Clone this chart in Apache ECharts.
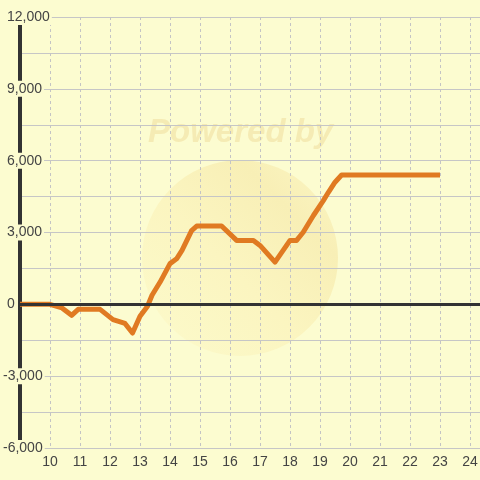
<!DOCTYPE html>
<html><head><meta charset="utf-8">
<script src="https://cdn.jsdelivr.net/npm/echarts@6/dist/echarts.min.js"></script>
<style>html,body{margin:0;padding:0;background:#fcfcd0}#c{width:480px;height:480px}</style>
</head><body><div id="c"></div>
<script>
// hour of day (x) and value (y)
const hours = [9, 10, 10.4, 10.72, 10.94, 11.67, 12.1, 12.5, 12.75, 13.0, 13.25, 13.4, 13.67, 14.0, 14.22, 14.4, 14.72, 14.89, 15.72, 16.22, 16.78, 17.0, 17.5, 18.0, 18.22, 18.44, 18.78, 19.11, 19.28, 19.5, 19.72, 23.0];
const values = [0, 0, -150, -460, -210, -210, -640, -800, -1200, -500, -80, 380, 930, 1700, 1900, 2250, 3080, 3270, 3270, 2670, 2670, 2460, 1760, 2670, 2670, 3010, 3710, 4330, 4680, 5100, 5400, 5400];
const xMin = 9, xMax = 24.333, xStep = 1;
const yMin = -6000, yMax = 12000, yStep = 3000;
const zeroLine = [0];
const watermarkText = 'Powered by';

const points = hours.map((h, i) => [h, values[i]]);
const font = '"Liberation Sans", Arial, sans-serif';
const bg = '#fcfcd0';

const chart = echarts.init(document.getElementById('c'));
chart.setOption({
  backgroundColor: bg,
  animation: false,
  grid: { left: 20, right: 0, top: 17, bottom: 32, outerBoundsMode: 'none', containLabel: false },
  graphic: [
    { type: 'circle', z: -10, shape: { cx: 240, cy: 258, r: 98 },
      style: { fill: new echarts.graphic.LinearGradient(0, 1, 1, 0, [
        { offset: 0, color: '#fcfacb' }, { offset: 0.45, color: '#fbf5c0' }, { offset: 0.75, color: '#f8efb6' }, { offset: 1, color: '#fbf6c4' }]) } },
    { type: 'text', z: -10, left: 148, top: 116,
      style: { text: watermarkText, fill: '#f5ebb4', font: 'italic bold 33px "Liberation Sans", Arial, sans-serif' } }
  ],
  xAxis: {
    type: 'value', min: xMin, max: xMax, interval: xStep,
    axisLine: { show: false }, axisTick: { show: false },
    axisLabel: { margin: 7, color: '#444', fontSize: 14, fontFamily: font,
      formatter: v => (v > xMin && Math.abs(v - Math.round(v)) < 1e-6) ? String(v) : '' },
    splitLine: { show: true, lineStyle: { color: '#c4c4c4', type: [3, 3], width: 1 } }
  },
  yAxis: {
    type: 'value', min: yMin, max: yMax, interval: yStep,
    axisLine: { show: true, lineStyle: { color: '#333', width: 4 } },
    axisTick: { show: false },
    minorTick: { show: false, splitNumber: 2 },
    minorSplitLine: { show: true, lineStyle: { color: '#c6c6c6', width: 1 } },
    splitLine: { show: true, lineStyle: { color: '#c6c6c6', width: 1 } },
    axisLabel: {
      align: 'left', margin: 17, fontSize: 14, fontFamily: font, color: '#444',
      formatter: v => (v < 0 ? '{n|' : '{p|') + echarts.format.addCommas(v) + '}',
      rich: {
        n: { fontSize: 14, fontFamily: font, color: '#444', backgroundColor: bg, padding: [1, 2, 1, 0] },
        p: { fontSize: 14, fontFamily: font, color: '#444', backgroundColor: bg, padding: [1, 2, 1, 4] }
      }
    }
  },
  series: [
    { type: 'line', data: [], z: 1,
      markLine: { silent: true, symbol: 'none', label: { show: false },
        lineStyle: { color: '#333', width: 3, type: 'solid' },
        data: zeroLine.map(v => ({ yAxis: v })) } },
    { type: 'line', data: points, z: 3, showSymbol: false, symbol: 'none',
      lineStyle: { color: '#e07a22', width: 5, join: 'round' } }
  ]
});
</script></body></html>
